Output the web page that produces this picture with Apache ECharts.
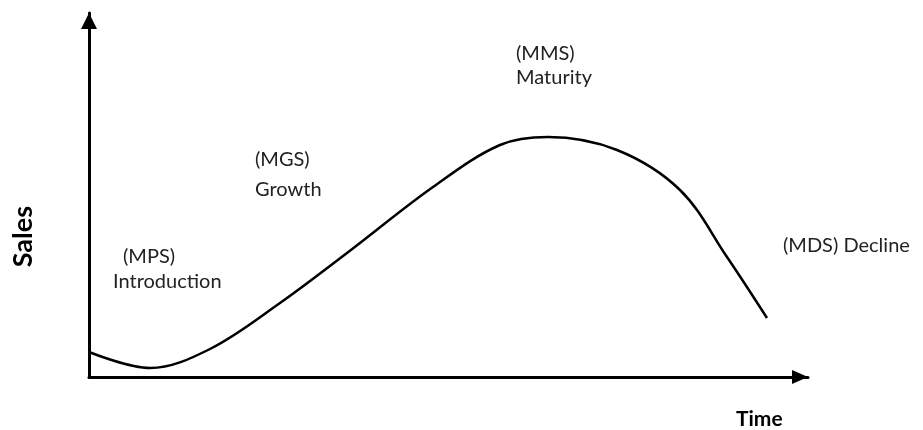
<!DOCTYPE html>
<html>
<head>
<meta charset="utf-8">
<script src="https://cdn.jsdelivr.net/npm/echarts@6/dist/echarts.min.js"></script>
<style>html,body{margin:0;padding:0;background:#fff}#c{width:923px;height:430px}</style>
</head>
<body>
<div id="c"></div>
<script>
// Time (x) and Sales (y) values of the product life cycle curve
const timeValues = [0, 61, 121, 191, 258, 344, 411, 459, 528, 591, 638, 678];
const salesValues = [25, 9, 28, 74, 124, 190, 232, 240, 227, 187, 120, 59];
const axisTitles = { x: 'Time', y: 'Sales' };
const stageLabels = ['(MPS)', 'Introduction', '(MGS)', 'Growth', '(MMS)', 'Maturity', '(MDS) Decline'];

const chart = echarts.init(document.getElementById('c'), null, { renderer: 'canvas' });
const font = 'Lato, "Open Sans", sans-serif';
const txt = (text, x, y) => ({ type: 'text', left: x, top: y, style: { text, fill: '#222', font: '20px ' + font } });

chart.setOption({
  animation: false,
  grid: { left: 89, right: 115, top: 13, bottom: 53 },
  xAxis: {
    type: 'value', min: 0, max: 719,
    axisLine: { show: true, lineStyle: { color: '#000', width: 3 }, symbol: ['none', 'triangle'], symbolSize: [14, 16], symbolOffset: [0, -8] },
    axisTick: { show: false }, axisLabel: { show: false }, splitLine: { show: false }
  },
  yAxis: {
    type: 'value', min: 0, max: 364,
    axisLine: { show: true, lineStyle: { color: '#000', width: 3 }, symbol: ['none', 'triangle'], symbolSize: [16, 16], symbolOffset: [0, -8] },
    axisTick: { show: false }, axisLabel: { show: false }, splitLine: { show: false }
  },
  series: [{
    type: 'line',
    data: timeValues.map((t, i) => [t, salesValues[i]]),
    smooth: 0.35,
    showSymbol: false,
    lineStyle: { color: '#000', width: 2.5 }
  }],
  graphic: [
    { type: 'text', left: 10, top: 206, rotation: Math.PI / 2,
      style: { text: axisTitles.y, fill: '#000', font: 'bold 27px ' + font } },
    { type: 'text', left: 736, top: 409,
      style: { text: axisTitles.x, fill: '#000', font: 'bold 21px ' + font } },
    txt(stageLabels[0], 123, 247),
    txt(stageLabels[1], 113, 272),
    txt(stageLabels[2], 255, 150),
    txt(stageLabels[3], 255, 180),
    txt(stageLabels[4], 516, 44),
    txt(stageLabels[5], 516, 68),
    txt(stageLabels[6], 783, 236)
  ]
});
</script>
</body>
</html>
